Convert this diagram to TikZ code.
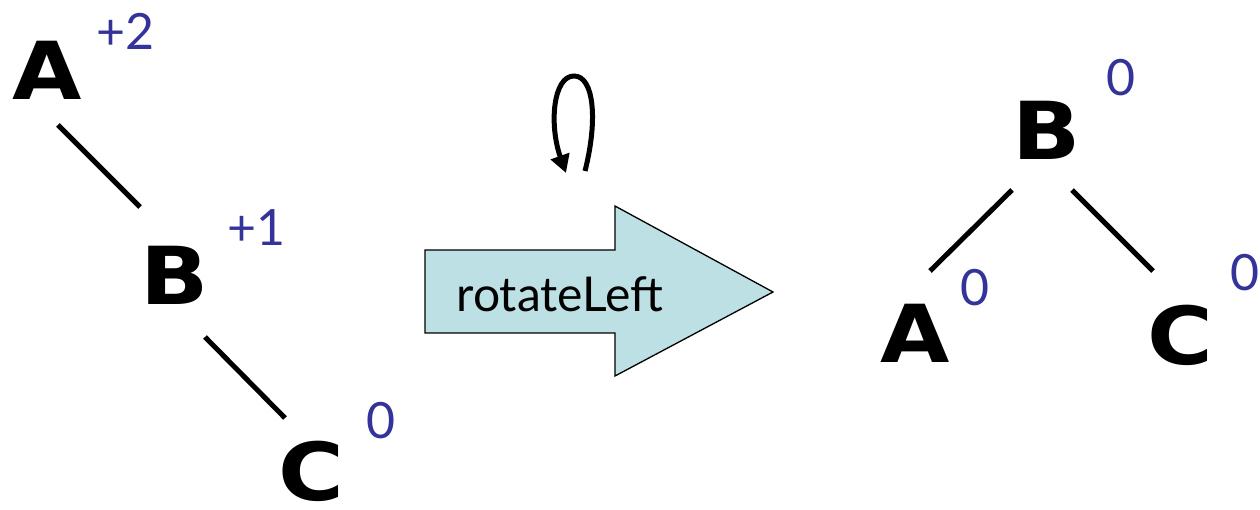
\documentclass[tikz,border=0pt]{standalone}
\usepackage{fontspec}
\setmainfont{Lato}
\newfontfamily\keyfont[FakeStretch=1.12]{DejaVu Sans}
\usetikzlibrary{arrows.meta}
\definecolor{balcol}{HTML}{333399}
\definecolor{arrowfill}{HTML}{BCE0E3}
\tikzset{
  key/.style={inner sep=0pt, font=\keyfont\bfseries\fontsize{80}{80}\selectfont},
  bal/.style={inner sep=0pt, text=balcol, font=\fontsize{50}{50}\selectfont},
  edge/.style={line width=5pt},
}
\begin{document}
\begin{tikzpicture}[x=1pt,y=-1pt]
\useasboundingbox (0,0) rectangle (1260,510);

% tree before the rotation
\node[key] (a1) at (47,70) {A};
\node[bal] (a1b) at (125,31) {+2};
\node[key] (b1) at (175,275) {B};
\node[bal] (b1b) at (256,228) {+1};
\node[key] (c1) at (311,471) {C};
\node[bal] (c1b) at (381,421) {0};
\coordinate (e1s) at (58,125);
\coordinate (e1t) at (140,207);
\coordinate (e2s) at (205,337);
\coordinate (e2t) at (285,418);
\draw[edge] (e1s) -- (e1t);
\draw[edge] (e2s) -- (e2t);

% rotation arrow
\draw[line width=1.3pt, fill=arrowfill, line join=miter]
  (425,250) -- (615,250) -- (615,206) -- (773,292) -- (615,376)
  -- (615,333) -- (425,333) -- cycle;
\node[inner sep=0pt, anchor=base, font=\fontsize{48}{48}\selectfont] (rotlbl) at (560,312) {rotateLeft};

% curl over the arrow
\coordinate (cs) at (585,171);
\coordinate (ct) at (566,173);
\draw[line width=5pt, -{Triangle[length=18pt,width=19pt]}]
  (cs) .. controls (598,120) and (594,76) .. (574,76)
       .. controls (553,76) and (549,125) .. (ct);

% tree after the rotation
\node[key] (b2) at (1047,130) {B};
\node[bal] (b2b) at (1121,78) {0};
\node[key] (a2) at (915,333) {A};
\node[bal] (a2b) at (975,288) {0};
\node[key] (c2) at (1180,335) {C};
\node[bal] (c2b) at (1245,273) {0};
\coordinate (e3s) at (930,271);
\coordinate (e3t) at (1012,190);
\coordinate (e4s) at (1072,190);
\coordinate (e4t) at (1153,271);
\draw[edge] (e3s) -- (e3t);
\draw[edge] (e4s) -- (e4t);
\end{tikzpicture}
\end{document}
